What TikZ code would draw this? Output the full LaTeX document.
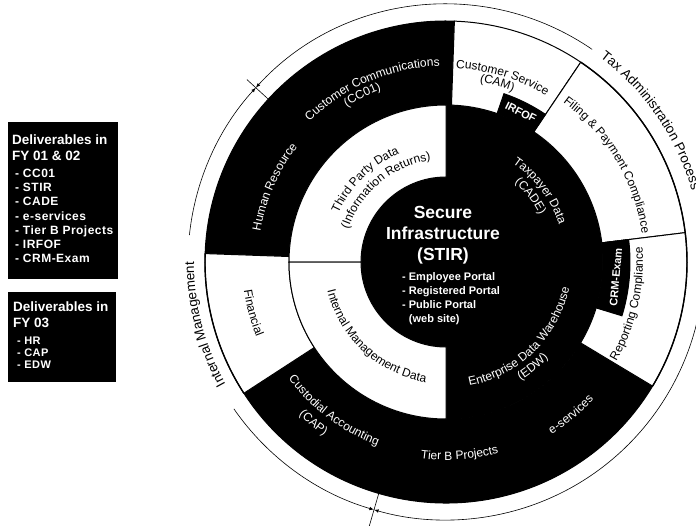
\documentclass[tikz,border=0pt]{standalone}
\usepackage{fontspec}
\setmainfont{Liberation Sans}
\usetikzlibrary{decorations.text}

\newcommand{\ringfont}{\fontsize{12}{14}\selectfont}
\newcommand{\procfont}{\fontsize{13.5}{16}\selectfont}

\tikzset{
    segline/.style={draw=black, line width=1pt},
    blackseg/.style={segline, fill=black},
    whiteseg/.style={segline, fill=white},
    bracket/.style={draw=black, line width=0.6pt},
    ringtext/.style={decorate, decoration={text along path, text align=center, text={|\ringfont|#1}}},
    proctext/.style={decorate, decoration={text along path, text align=center, text={|\procfont|#1}}},
    wtext/.style={decoration={text color=white}},
    dbox/.style={fill=black, inner sep=0pt},
    boxhead/.style={anchor=north west, inner sep=0pt, text=white, align=left, font=\fontsize{13.5}{15.5}\selectfont\bfseries},
    boxlist/.style={anchor=north west, inner sep=0pt, text=white, align=left, font=\fontsize{12}{14.2}\selectfont\bfseries\addfontfeatures{LetterSpace=4}},
    stirtitle/.style={text=white, align=center, inner sep=0pt, font=\fontsize{17.5}{21}\selectfont\bfseries},
    stirlist/.style={anchor=north west, inner sep=0pt, text=white, align=left, font=\fontsize{11}{14}\selectfont\bfseries},
    tabtext/.style={text=white, inner sep=0pt, font=\fontsize{11}{13}\selectfont\bfseries},
}

\begin{document}
\begin{tikzpicture}[scale=1]
    \useasboundingbox (-446pt,-263pt) rectangle (250pt,262pt);
    % deliverables
    \node[dbox, minimum width=110pt, minimum height=157pt] (fy0102) at (-383pt,61.5pt) {};
    \node[boxhead] (fy0102head) at (-434pt,127pt) {Deliverables in\\FY 01 \& 02};
    \node[boxlist] (fy0102list) at (-431pt,93pt) {- CC01\\- STIR\\- CADE\\- e-services\\- Tier B Projects\\- IRFOF\\- CRM-Exam};
    \node[dbox, minimum width=108pt, minimum height=90pt] (fy03) at (-384pt,-75pt) {};
    \node[boxhead] (fy03head) at (-433pt,-40pt) {Deliverables in\\FY 03};
    \node[boxlist, font=\fontsize{11}{11.7}\selectfont\bfseries\addfontfeatures{LetterSpace=4}] (fy03list) at (-429pt,-75pt) {- HR\\- CAP\\- EDW};

    % rings
    \fill[black] (0,0) circle (157pt);
    \draw[blackseg] (88:157pt) -- (88:241pt) arc(88:178:241pt) -- (178:157pt) arc(178:88:157pt) -- cycle;
    \draw[blackseg] (213:157pt) -- (213:241pt) arc(213:329:241pt) -- (329:157pt) arc(329:213:157pt) -- cycle;
    \draw[whiteseg] (56:157pt) -- (56:241pt) arc(56:88:241pt) -- (88:157pt) arc(88:56:157pt) -- cycle;
    \draw[whiteseg] (7:157pt) -- (7:241pt) arc(7:56:241pt) -- (56:157pt) arc(56:7:157pt) -- cycle;
    \draw[whiteseg] (-31:157pt) -- (-31:241pt) arc(-31:7:241pt) -- (7:157pt) arc(7:-31:157pt) -- cycle;
    \draw[whiteseg] (178:157pt) -- (178:241pt) arc(178:213:241pt) -- (213:157pt) arc(213:178:157pt) -- cycle;
    \draw[whiteseg] (90:85pt) -- (90:157pt) arc(90:180:157pt) -- (180:85pt) arc(180:90:85pt) -- cycle;
    \draw[whiteseg] (180:85pt) -- (180:157pt) arc(180:270:157pt) -- (270:85pt) arc(270:180:85pt) -- cycle;
    \draw[blackseg] (56:157pt) -- (56:178pt) arc(56:71:178pt) -- (71:157pt) arc(71:56:157pt) -- cycle;
    \draw[blackseg] (-17:157pt) -- (-17:184pt) arc(-17:7:184pt) -- (7:157pt) arc(7:-17:157pt) -- cycle;
    \draw[line width=1.4pt] (-31:241pt) arc(-31:56:241pt) (178:241pt) arc(178:213:241pt);

    % brackets
    \draw[bracket] (137.5:238pt) -- (137.5:270pt);
    \draw[bracket] (253.8:240pt) -- (253.8:275pt);
    \draw[bracket, latex-] (137.5:258pt) arc(137.5:55.5:258pt);
    \draw[bracket, -latex] (14:258pt) arc(14:-106.2:258pt);
    \draw[bracket, latex-] (137.5:258pt) arc(137.5:174:258pt);
    \draw[bracket, -latex] (214.7:258pt) arc(214.7:253.8:258pt);
    \path[proctext={Tax Administration Process}, decoration={text align=left}] (53:256pt) arc(53:-30:256pt);
    \path[proctext={Internal Management}] (224.5:252pt) arc(224.5:164.5:252pt);

    % outer ring
    \path[ringtext={Customer Communications}, wtext] (153:196pt) arc(153:73:196pt);
    \path[ringtext={(CC01)}, wtext] (136.6:184pt) arc(136.6:96.6:184pt);
    \path[ringtext={Human Resource}, wtext] (176.4:188pt) arc(176.4:136.4:188pt);
    \path[ringtext={Customer Service}] (98:194pt) arc(98:48:194pt);
    \path[ringtext={(CAM)}] (86:183pt) arc(86:62:183pt);
    \path[ringtext={Filing {\&} Payment Compliance}] (61:198pt) arc(61:1:198pt);
    \path[ringtext={Reporting Compliance}] (-37.9:197pt) arc(-37.9:12.1:197pt);
    \path[ringtext={e-services}, wtext] (-65.7:202pt) arc(-65.7:-35.7:202pt);
    \path[ringtext={Tier B Projects}, wtext] (-106:198pt) arc(-106:-66:198pt);
    \path[ringtext={Custodial Accounting}, wtext] (208:196pt) arc(208:258:196pt);
    \path[ringtext={(CAP)}, wtext] (220.5:212pt) arc(220.5:240.5:212pt);
    \path[ringtext={Financial}] (182.8:204pt) arc(182.8:206.8:204pt);
    \node[tabtext, rotate=-26.5] (irfof) at (63.5:167.5pt) {IRFOF};
    \node[tabtext, rotate=85] (crmexam) at (-5:170.5pt) {CRM-Exam};

    % middle ring
    \path[ringtext={Third Party Data}] (164.5:118pt) arc(164.5:104.5:118pt);
    \path[ringtext={(Information Returns)}] (170:103pt) arc(170:90:103pt);
    \path[ringtext={Internal Management Data}] (187:122pt) arc(187:267:122pt);
    \path[ringtext={Enterprise Data Warehouse}, wtext] (-85.6:126pt) arc(-85.6:-5.6:126pt);
    \path[ringtext={(EDW)}, wtext] (-62.4:140pt) arc(-62.4:-38.4:140pt);
    \path[ringtext={Taxpayer Data}, wtext] (62:119pt) arc(62:12:119pt);
    \path[ringtext={(CADE)}, wtext] (58:105pt) arc(58:18:105pt);

    % centre
    \node[stirtitle] (stir) at (-3pt,27pt) {Secure\\Infrastructure\\(STIR)};
    \node[stirlist] (portals) at (-44pt,-10pt) {- Employee Portal\\- Registered Portal\\- Public Portal\\\phantom{- }(web site)};
\end{tikzpicture}
\end{document}
